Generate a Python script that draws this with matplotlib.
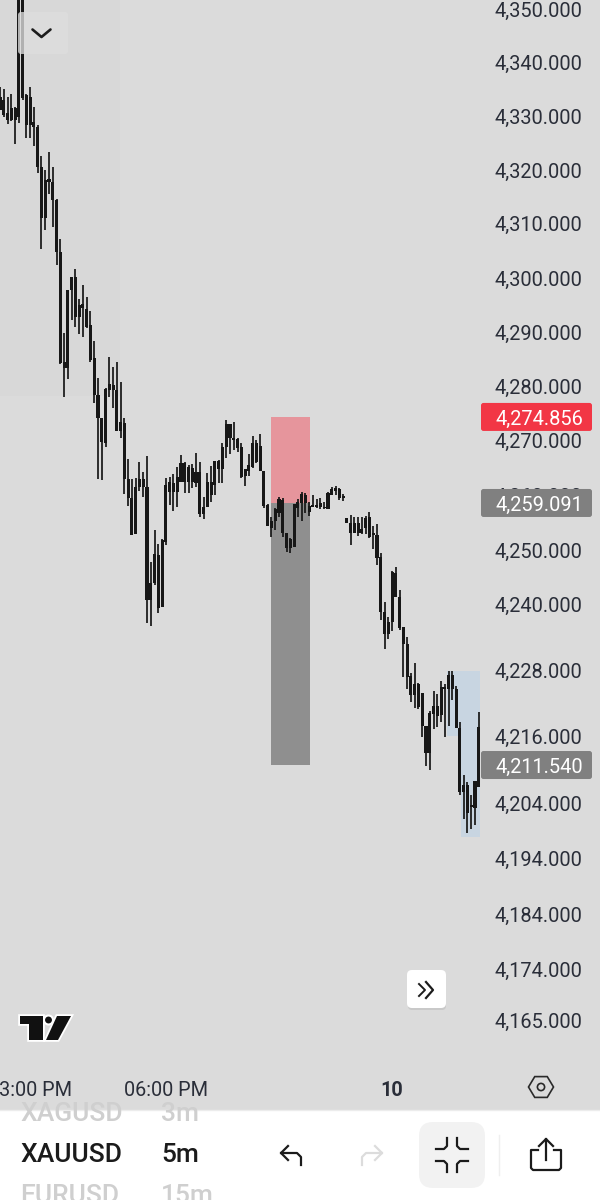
import matplotlib
matplotlib.use("Agg")
import matplotlib.pyplot as plt
import numpy as np
from matplotlib.patches import Rectangle, FancyBboxPatch, Polygon, Circle

plt.rcParams['font.family'] = ['Roboto', 'DejaVu Sans']

BG = '#dbdbdb'
INK = '#2a2e39'

# candles, 5m (open/close are just body top/bottom)
highs = [4335.5, 4335.1, 4333.6, 4334.1, 4331.7, 4353.0, 4353.0, 4334.1, 4335.5, 4331.7,
         4328.4, 4322.6, 4320.0, 4323.3, 4320.6, 4314.6, 4307.2, 4289.8, 4297.8, 4300.2,
         4301.7, 4296.1, 4298.7, 4296.5, 4293.9, 4288.4, 4281.5, 4274.2, 4279.7, 4285.4,
         4283.6, 4284.5, 4280.8, 4274.2, 4266.7, 4263.0, 4263.2, 4266.1, 4264.3, 4267.2,
         4247.8, 4253.7, 4251.1, 4252.0, 4263.2, 4263.3, 4263.9, 4265.2, 4267.4, 4266.1,
         4265.6, 4265.8, 4267.8, 4266.1, 4259.7, 4264.1, 4265.4, 4266.3, 4266.5, 4269.6,
         4273.8, 4273.1, 4273.5, 4270.5, 4269.6, 4264.8, 4267.6, 4270.9, 4270.2, 4271.3,
         4264.5, 4258.4, 4256.05, 4257.7, 4259.7, 4259.5, 4253.1, 4252.2, 4258.4, 4259.3,
         4260.6, 4260.4, 4258.8, 4260.1, 4259.3, 4259.5, 4258.8, 4260.6, 4261.5, 4261.7,
         4261.3, 4260.2, 4255.9, 4256.4, 4256.05, 4256.05, 4256.05, 4256.2, 4257.0, 4254.4,
         4254.8, 4249.5, 4240.5, 4237.8, 4246.2, 4246.9, 4242.7, 4236.0, 4234.2, 4227.6,
         4229.4, 4225.8, 4224.0, 4218.0, 4220.7, 4224.3, 4223.8, 4226.2, 4225.5, 4227.9,
         4228.0, 4225.2, 4218.7, 4209.1, 4207.9, 4205.5, 4208.0, 4220.5]
lows = [4331.1, 4329.8, 4328.5, 4329.1, 4324.8, 4328.7, 4333.0, 4325.9, 4325.9, 4324.5,
        4319.5, 4305.3, 4308.9, 4315.5, 4309.4, 4302.4, 4284.1, 4278.0, 4281.4, 4292.2,
        4290.9, 4289.6, 4289.1, 4290.7, 4284.5, 4276.9, 4263.0, 4262.8, 4268.9, 4278.0,
        4276.0, 4271.8, 4270.5, 4260.3, 4258.05, 4252.8, 4253.0, 4260.8, 4259.7, 4236.7,
        4236.2, 4243.6, 4238.5, 4239.6, 4250.9, 4258.2, 4257.1, 4257.9, 4262.5, 4260.4,
        4260.4, 4261.3, 4261.5, 4256.05, 4255.7, 4257.9, 4258.8, 4260.1, 4262.3, 4262.3,
        4266.9, 4267.6, 4268.3, 4268.0, 4263.2, 4261.7, 4263.6, 4265.0, 4266.0, 4264.5,
        4257.7, 4254.4, 4252.4, 4253.7, 4256.05, 4252.4, 4249.7, 4249.5, 4250.6, 4256.05,
        4255.3, 4256.8, 4256.2, 4257.9, 4257.7, 4257.5, 4257.5, 4257.5, 4260.1, 4260.1,
        4259.15, 4259.0, 4255.0, 4250.9, 4253.1, 4252.6, 4252.9, 4252.9, 4252.2, 4250.2,
        4247.3, 4237.3, 4232.0, 4233.8, 4235.3, 4241.4, 4235.5, 4226.9, 4224.7, 4222.3,
        4221.3, 4221.1, 4216.0, 4210.7, 4210.0, 4217.4, 4217.8, 4218.7, 4216.0, 4218.0,
        4222.7, 4217.6, 4205.5, 4201.2, 4198.7, 4199.4, 4200.1, 4207.0]
opens = [4333.6, 4333.0, 4330.6, 4331.5, 4331.5, 4351.7, 4351.7, 4333.9, 4333.6, 4328.9,
         4328.0, 4320.6, 4318.1, 4318.3, 4317.8, 4314.4, 4304.8, 4284.5, 4297.8, 4300.2,
         4300.2, 4295.0, 4295.2, 4294.2, 4291.3, 4285.2, 4278.4, 4274.2, 4279.5, 4280.4,
         4280.2, 4279.3, 4273.5, 4273.3, 4263.0, 4259.5, 4261.5, 4263.0, 4263.0, 4261.5,
         4244.0, 4249.3, 4249.1, 4251.8, 4261.9, 4262.5, 4262.3, 4263.4, 4265.9, 4265.9,
         4265.2, 4265.0, 4264.3, 4264.3, 4257.9, 4262.5, 4262.5, 4266.3, 4266.3, 4268.9,
         4273.1, 4273.1, 4270.5, 4270.3, 4268.9, 4264.8, 4265.6, 4269.6, 4269.6, 4269.1,
         4264.5, 4258.2, 4255.3, 4257.5, 4259.3, 4259.15, 4253.1, 4252.0, 4258.4, 4258.8,
         4260.2, 4260.1, 4258.05, 4258.2, 4258.2, 4258.6, 4257.9, 4260.4, 4261.1, 4261.3,
         4261.1, 4259.9, 4255.9, 4255.0, 4255.0, 4255.0, 4253.9, 4255.9, 4256.05, 4253.1,
         4252.8, 4248.7, 4238.7, 4236.9, 4246.0, 4245.8, 4241.4, 4236.0, 4232.9, 4227.1,
         4225.5, 4225.5, 4224.0, 4218.0, 4220.3, 4221.6, 4221.6, 4225.1, 4225.1, 4227.3,
         4227.3, 4224.7, 4217.6, 4207.3, 4207.3, 4203.7, 4208.0, 4217.8]
closes = [4331.1, 4330.2, 4329.3, 4329.3, 4329.3, 4329.8, 4333.4, 4328.4, 4328.4, 4328.0,
          4320.6, 4311.1, 4311.1, 4317.8, 4314.4, 4304.8, 4284.3, 4283.4, 4283.4, 4297.8,
          4292.8, 4292.8, 4294.4, 4290.9, 4284.8, 4278.4, 4274.2, 4269.8, 4269.6, 4279.3,
          4279.3, 4271.8, 4271.8, 4263.0, 4259.5, 4252.8, 4253.0, 4261.5, 4261.5, 4240.9,
          4240.9, 4244.0, 4239.4, 4239.6, 4251.5, 4260.6, 4260.6, 4260.6, 4262.5, 4262.5,
          4262.5, 4262.5, 4262.3, 4256.6, 4256.6, 4257.9, 4260.1, 4261.9, 4264.8, 4264.8,
          4268.9, 4270.5, 4270.2, 4268.7, 4263.4, 4263.6, 4264.5, 4265.2, 4266.1, 4264.5,
          4258.05, 4254.4, 4254.0, 4255.3, 4256.8, 4253.1, 4250.4, 4250.4, 4250.6, 4257.7,
          4258.6, 4258.6, 4257.0, 4257.9, 4257.9, 4257.9, 4257.7, 4257.5, 4260.1, 4260.8,
          4259.5, 4259.5, 4255.0, 4253.1, 4253.1, 4253.1, 4253.1, 4254.0, 4252.4, 4252.8,
          4248.6, 4238.7, 4234.7, 4234.7, 4236.9, 4241.4, 4235.8, 4232.9, 4226.9, 4223.6,
          4223.6, 4221.4, 4218.0, 4213.1, 4213.1, 4220.2, 4219.8, 4220.0, 4224.7, 4224.7,
          4224.7, 4217.6, 4206.1, 4206.1, 4202.3, 4203.3, 4203.2, 4207.0]

price_ticks = [4350, 4340, 4330, 4320, 4310, 4300, 4290, 4280, 4270, 4260, 4250, 4240,
               4228, 4216, 4204, 4194, 4184, 4174, 4165]
time_ticks = [8, 44, 104]
time_labels = ['03:00 PM', '06:00 PM', '10']

# where the boxes and tags sit on the scale, and what the tags say
stop_level = 4274.38
entry_level = 4258.6
target_level = 4210.9
tag_texts = ['4,274.856', '4,259.091', '4,211.540']

fig = plt.figure(figsize=(6, 12), dpi=100, facecolor=BG)
PX_PER_BAR = 3.77
CHART_R = 488
CHART_B = 1075
ax = fig.add_axes([0, 1 - CHART_B / 1200, CHART_R / 600, CHART_B / 1200], facecolor=BG)
ax.set_yscale('log')
ax.set_xlim(0, CHART_R / PX_PER_BAR)
ax.set_ylim(4155.16, 4351.68)
for s in ax.spines.values():
    s.set_visible(False)

x = np.arange(len(highs))
highs, lows, opens, closes = map(np.array, (highs, lows, opens, closes))

# faint band on the left
ax.axvspan(0, 31.8, ymin=0.632, ymax=1, color='#d8d8d8', lw=0, zorder=0)

# position boxes
ax.fill_between([71.9, 82.2], entry_level, stop_level, color='#e6959c', lw=0, zorder=1)
ax.fill_between([71.9, 82.2], target_level, entry_level, color='#8f8f8f', lw=0, zorder=1)
# blue box
ax.fill_between([118.5, 127.4], 4216.2, 4228.0, color='#c8d5e1', lw=0, zorder=1)
ax.fill_between([122.3, 127.4], 4197.9, 4216.2, color='#c8d5e1', lw=0, zorder=1)

# candles
ax.vlines(x, lows, highs, color='#171717', lw=1.25, zorder=3)
ax.bar(x, closes - opens, bottom=opens, width=0.82, color='#171717', lw=0, zorder=3)

ax.yaxis.tick_right()
ax.set_yticks(price_ticks)
ax.set_yticklabels([f'{p:,.3f}' for p in price_ticks])
ax.yaxis.set_minor_locator(plt.NullLocator())
ax.tick_params(axis='y', length=0, pad=4.5, labelsize=14.4, labelcolor=INK)
ax.set_xticks(time_ticks)
ax.set_xticklabels(time_labels)
ax.tick_params(axis='x', length=0, pad=4, labelsize=14.3, labelcolor=INK)
ax.get_xticklabels()[2].set_fontweight('bold')

# overlay in pixel coordinates for the app chrome
ui = fig.add_axes([0, 0, 1, 1], facecolor='none')
ui.set_xlim(0, 600)
ui.set_ylim(1200, 0)
ui.axis('off')


def py(price):
    return 1200 - ax.transData.transform((0, price))[1]


def rounded(x0, y0, w, h, r, **kw):
    p = FancyBboxPatch((x0 + r, y0 + r), w - 2 * r, h - 2 * r,
                       boxstyle=f'round,pad={r},rounding_size={r}', lw=0, **kw)
    ui.add_patch(p)
    return p


# price tags
for level, label, col in zip([stop_level, entry_level, target_level], tag_texts,
                             ['#f23645', '#808080', '#808080']):
    yy = py(level)
    rounded(481, yy - 14, 111, 28, 2.5, fc=col, zorder=3)
    ui.text(495, yy, label, color='white', fontsize=14.4, va='center_baseline', zorder=4)

# chevron button
rounded(18, 12, 50, 42, 3, fc='#dedede', alpha=0.78, zorder=2)
ui.plot([32.5, 41.5, 50.5], [29.5, 37, 29.5], color='#1c1c1c', lw=1.9, solid_capstyle='round', zorder=3)

# logo
logo_parts = [[(20, 1016), (43, 1016), (43, 1040), (29, 1040), (29, 1024), (20, 1024)],
              [(57, 1016), (71, 1016), (58, 1040), (46, 1040)]]
for pts in logo_parts:
    ui.add_patch(Polygon(pts, closed=True, fc='#111111', ec='white', lw=2.6, joinstyle='miter', zorder=3))
    ui.add_patch(Polygon(pts, closed=True, fc='#111111', lw=0, zorder=4))
ui.add_patch(Circle((48.5, 1020), 4.5, fc='#111111', ec='white', lw=1.5, zorder=3))

# scroll button
rounded(408, 972, 38, 38, 4, fc='#c9c9c9', zorder=2)
rounded(407, 970, 39, 38, 5, fc='white', zorder=3)
ui.plot([419, 425, 419], [984, 990, 996], color='#1c1c1c', lw=1.4, zorder=4)
ui.plot([426, 433, 426], [982, 990, 998], color='#1c1c1c', lw=1.6, zorder=4)

# settings hexagon
ang = np.deg2rad([0, 60, 120, 180, 240, 300])
ui.add_patch(Polygon(np.c_[541 + 12.5 * np.cos(ang), 1087 + 12 * np.sin(ang)], closed=True,
                     fc='none', ec='#2a2a2a', lw=1.2, zorder=3))
ui.add_patch(Circle((541, 1087), 3.6, fc='none', ec='#2a2a2a', lw=1.2, zorder=3))

# bottom bar
panel = Rectangle((0, 1110), 600, 90, fc='white', lw=0, zorder=1)
ui.add_patch(panel)
ui.plot([0, 600], [1109.5, 1109.5], color='#ececec', lw=1, zorder=2)
for label, xx, yy, col in [('XAGUSD', 20, 1114, '#cfcfcf'), ('3m', 161, 1114, '#cfcfcf'),
                           ('XAUUSD', 20, 1155, '#1b1b1b'), ('5m', 161, 1155, '#1b1b1b'),
                           ('EURUSD', 20, 1196, '#cfcfcf'), ('15m', 161, 1196, '#cfcfcf')]:
    t = ui.text(xx, yy, label, color=col, fontsize=19, fontweight='medium', va='center', zorder=3)
    t.set_clip_path(panel)

# undo, redo
for xs, col in [(1, '#1b1b1b'), (-1, '#dcdcdc')]:
    cx = 291 if xs == 1 else 372
    ui.plot([cx + xs * 10, cx + xs * 10, cx + xs * 6, cx - xs * 10],
            [1165, 1157, 1153, 1153], color=col, lw=1.6, zorder=3)
    ui.plot([cx - xs * 3, cx - xs * 10, cx - xs * 3], [1146, 1153, 1160], color=col, lw=1.6, zorder=3)

# collapse button
rounded(419, 1122, 66, 66, 14, fc='#f2f2f2', zorder=2)
for sx, sy in [(-1, -1), (1, -1), (-1, 1), (1, 1)]:
    ui.plot([452 + sx * 16, 452 + sx * 8, 452 + sx * 5, 452 + sx * 5],
            [1155 + sy * 6, 1155 + sy * 6, 1155 + sy * 9, 1155 + sy * 17],
            color='#1b1b1b', lw=1.6, zorder=3)
ui.plot([499, 499], [1135, 1175], color='#efefef', lw=1, zorder=2)

# share
ui.plot([538, 531, 531, 533, 559, 561, 561, 554], [1150, 1150, 1168, 1170, 1170, 1168, 1150, 1150],
        color='#1b1b1b', lw=1.6, zorder=3)
ui.plot([546, 546], [1139, 1160], color='#1b1b1b', lw=1.6, zorder=3)
ui.plot([539, 546, 553], [1146, 1139, 1146], color='#1b1b1b', lw=1.6, zorder=3)

fig.savefig('out.png', dpi=100, facecolor=BG)
